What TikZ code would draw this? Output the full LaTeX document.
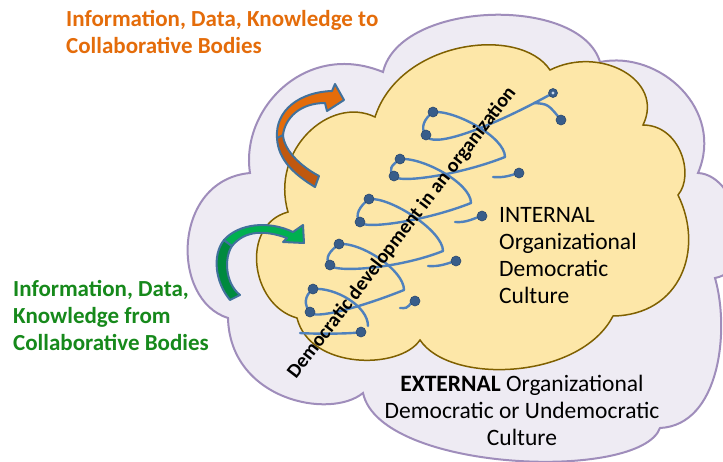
\documentclass[tikz,border=0pt]{standalone}
\usepackage{fontspec}
\setmainfont{Carlito}
\usepackage{xcolor}
\usetikzlibrary{positioning}

\definecolor{outerfill}{HTML}{EEEBF3}
\definecolor{outerline}{HTML}{9F8DBB}
\definecolor{innerfill}{HTML}{FDE7A8}
\definecolor{innerline}{HTML}{7F6000}
\definecolor{orangetxt}{HTML}{E46C0A}
\definecolor{greentxt}{HTML}{16891B}
\definecolor{arrowline}{HTML}{41719C}
\definecolor{orangetop}{HTML}{E46C0A}
\definecolor{orangelow}{HTML}{C0580F}
\definecolor{greentop}{HTML}{00B050}
\definecolor{greenlow}{HTML}{008A3E}
\definecolor{coil}{HTML}{4F81BD}
\definecolor{dotblue}{HTML}{385D8A}

\begin{document}
\begin{tikzpicture}[x=1pt, y=-1pt,
    coilline/.style={draw=coil, line width=2.4pt, line cap=round},
    coildot/.style={circle, fill=dotblue, draw=dotblue!80!black, line width=0.6pt, minimum size=10pt, inner sep=0pt},
    bandline/.style={draw=arrowline, line width=2pt, line join=round},
    flowtext/.style={font=\bfseries\fontsize{23}{27}\selectfont, inner sep=0pt, align=left},
    culturetext/.style={font=\fontsize{23.5}{27}\selectfont, inner sep=0pt}]
    \useasboundingbox (0,0) rectangle (723,461);

    % Outer cloud (external culture)
    \draw[draw=outerline, fill=outerfill, line width=2pt] (250,173)
        .. controls (240,110) and (305,40) .. (383,72)
        .. controls (400,0) and (580,-5) .. (600,62)
        .. controls (660,50) and (725,110) .. (698,173)
        .. controls (740,175) and (760,270) .. (715,278)
        .. controls (730,330) and (720,425) .. (660,428)
        .. controls (640,482) and (380,472) .. (363,393)
        .. controls (330,420) and (230,400) .. (228,318)
        .. controls (170,300) and (172,180) .. (250,173) -- cycle;

    % Inner cloud (internal culture)
    \draw[draw=innerline, fill=innerfill, line width=1.5pt] (288,212)
        .. controls (270,150) and (330,95) .. (375,117)
        .. controls (400,40) and (520,25) .. (550,70)
        .. controls (600,45) and (665,80) .. (643,125)
        .. controls (680,125) and (695,175) .. (678,195)
        .. controls (705,250) and (680,315) .. (613,316)
        .. controls (580,380) and (450,385) .. (420,340)
        .. controls (400,370) and (310,370) .. (297,318)
        .. controls (250,305) and (240,225) .. (288,212) -- cycle;

    % Curved arrow out to the bodies
    \draw[bandline, fill=orangelow] (315,187) .. controls (295,175) and (278,160) .. (277,138)
        -- (283,135) .. controls (284,150) and (300,166) .. (319,176) -- cycle;
    \draw[bandline, fill=orangetop] (277,138) .. controls (275,110) and (300,92) .. (332,91)
        -- (335,84) -- (344,100) -- (327,111) -- (325,103)
        .. controls (300,103) and (285,118) .. (283,135) -- cycle;

    % Curved arrow in from the bodies
    \draw[bandline, fill=greenlow] (230,300) .. controls (215,282) and (212,255) .. (224,240)
        -- (232,246) .. controls (224,258) and (225,283) .. (240,295) -- cycle;
    \draw[bandline, fill=greentop] (224,240) .. controls (238,224) and (268,220) .. (293,232)
        -- (303,225) -- (304,243) -- (283,242) -- (287,238)
        .. controls (265,230) and (245,230) .. (232,246) -- cycle;

    % Coil points
    \foreach \n/\x/\y in {t/553/93, b/534/103, r1/561/120,
        u1/433/112, l1/426/135, u2/400/159, l2/394/176, u3/369/199, l3/360/222,
        u4/339/244, l4/330/265, u5/313/289, l5/310/312,
        j1/505/157, j2/471/203, j3/443/251, j4/404/290, j5/368/326,
        r2/519/173, r3/482/216, r4/456/261, r5/415/301, r6/361/332,
        s2/493/177, s3/455/222, s4/428/266, s5/400/308, s6/300/333}
        \coordinate (\n) at (\x,\y);

    % The coil
    \draw[coilline] (l1) .. controls (430,150) and (490,128) .. (t);
    \draw[coilline] (b) .. controls (548,104) .. (r1);
    \foreach \i in {1,...,5} {
        \draw[coilline] (u\i) .. controls +(-9,7) and +(-6,-7) .. (l\i);
        \draw[coilline] (u\i) .. controls +(22,-2) and +(0,-20) .. (j\i);
    }
    \foreach \i/\j in {2/1,3/2,4/3,5/4}
        \draw[coilline] (l\i) .. controls +(3,8) and +(-45,18) .. (j\j);
    \foreach \i in {2,...,6}
        \draw[coilline] (s\i) .. controls +(12,1) and +(-8,2) .. (r\i);

    % Dots on the coil
    \foreach \p in {u1,l1,u2,l2,u3,l3,u4,l4,u5,l5,r1,r2,r3,r4,r5,r6}
        \node[coildot] (dot-\p) at (\p) {};
    \node[coildot, minimum size=9pt] (dot-t) at (t) {};
    \fill[coil!30] (t) circle (1.6);

    % Labels
    \node[flowtext, text=orangetxt, anchor=north west] (to-bodies) at (66,10)
        {Information, Data, Knowledge to\\Collaborative Bodies};
    \node[flowtext, text=greentxt, anchor=north west] (from-bodies) at (13,280)
        {Information, Data,\\Knowledge from\\Collaborative Bodies};
    \node[culturetext, anchor=north west, align=left] (internal) at (499,207)
        {INTERNAL\\Organizational\\Democratic\\Culture};
    \node[culturetext, anchor=north, align=center] (external) at (522,375)
        {\textbf{EXTERNAL} Organizational\\Democratic or Undemocratic\\Culture};
    \node[font=\bfseries\fontsize{20}{24}\selectfont, rotate=52.5] (coil-axis) at (402,233)
        {Democratic development in an organization};
\end{tikzpicture}
\end{document}
